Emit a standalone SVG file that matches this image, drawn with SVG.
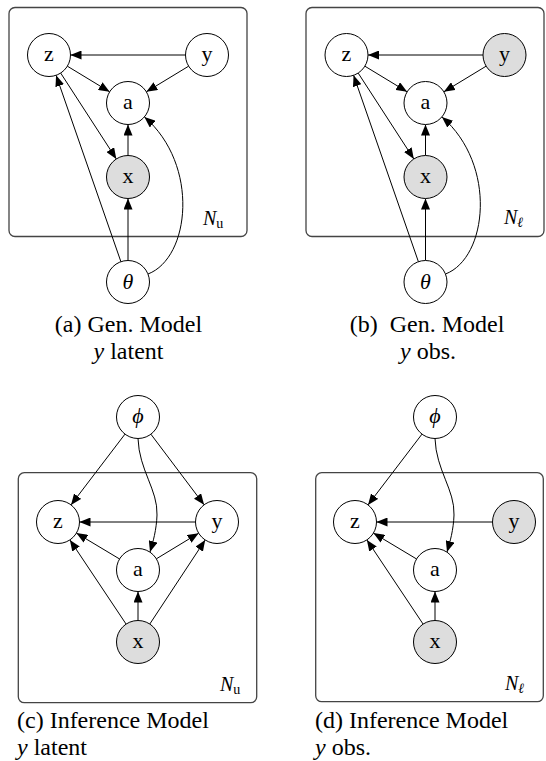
<svg xmlns="http://www.w3.org/2000/svg" width="546" height="761" viewBox="0 0 546 761" font-family="Liberation Serif, Times New Roman, DejaVu Serif, serif">
<defs>
<marker id="ah" viewBox="0 0 11 9" refX="11" refY="4.5" markerWidth="11" markerHeight="9" markerUnits="userSpaceOnUse" orient="auto"><path d="M0,0 L11,4.5 L0,9 z" fill="#000"/></marker>
</defs>
<style>
.plate{fill:none;stroke:#444;stroke-width:1.3}
.node circle{fill:#fff;stroke:#000;stroke-width:1}
.node.obs circle{fill:#dddddd}
.node text{font-size:22px;text-anchor:middle;fill:#000}
.node text.greek{font-style:italic}
.edges line,.edges path{fill:none;stroke:#000;stroke-width:1;marker-end:url(#ah)}
.plabel{font-size:20px;font-style:italic}
.sub{font-size:14px}
.cap{font-size:24px;fill:#000}
</style>
<rect width="546" height="761" fill="#fff"/>

<!-- Panel (a) -->
<g id="panel-a">
<rect class="plate" x="9" y="7.5" width="238" height="229" rx="6"/>
<text class="plabel" x="203" y="225">N<tspan class="sub" font-style="normal" dy="3">u</tspan></text>
<g id="edges-a" class="edges">
<line x1="185.5" y1="55" x2="70.5" y2="55"/>
<line x1="67.4" y1="66.2" x2="109.6" y2="91.8"/>
<line x1="188.6" y1="66.2" x2="146.4" y2="91.8"/>
<line x1="60.7" y1="73.1" x2="116.3" y2="158.9"/>
<line x1="128" y1="155.5" x2="128" y2="124.5"/>
<line x1="128" y1="260.5" x2="128" y2="198.5"/>
<line x1="120.9" y1="261.7" x2="56.1" y2="75.3"/>
<path d="M148,274 C190,258 200,165 144.4,116.9"/>
</g>
<g id="a-z" class="node"><circle cx="49" cy="55" r="21.5"/><text x="49" y="60.5">z</text></g>
<g id="a-y" class="node"><circle cx="207" cy="55" r="21.5"/><text x="207" y="60.5">y</text></g>
<g id="a-a" class="node"><circle cx="128" cy="103" r="21.5"/><text x="128" y="108.5">a</text></g>
<g id="a-x" class="node obs"><circle cx="128" cy="177" r="21.5"/><text x="128" y="182.5">x</text></g>
<g id="a-theta" class="node"><circle cx="128" cy="282" r="21.5"/><text class="greek" x="128" y="289">θ</text></g>
<text class="cap" x="128.5" y="332" text-anchor="middle">(a) Gen. Model</text>
<text class="cap" x="128.5" y="359" text-anchor="middle"><tspan font-style="italic">y</tspan> latent</text>
</g>

<!-- Panel (b) -->
<g id="panel-b">
<rect class="plate" x="306" y="7.5" width="238" height="229" rx="6"/>
<text class="plabel" x="504" y="224">N<tspan class="sub" dy="3">ℓ</tspan></text>
<g transform="translate(297.5,0)">
<g id="edges-b" class="edges">
<line x1="185.5" y1="55" x2="70.5" y2="55"/>
<line x1="67.4" y1="66.2" x2="109.6" y2="91.8"/>
<line x1="188.6" y1="66.2" x2="146.4" y2="91.8"/>
<line x1="60.7" y1="73.1" x2="116.3" y2="158.9"/>
<line x1="128" y1="155.5" x2="128" y2="124.5"/>
<line x1="128" y1="260.5" x2="128" y2="198.5"/>
<line x1="120.9" y1="261.7" x2="56.1" y2="75.3"/>
<path d="M148,274 C190,258 200,165 144.4,116.9"/>
</g>
<g id="b-z" class="node"><circle cx="49" cy="55" r="21.5"/><text x="49" y="60.5">z</text></g>
<g id="b-y" class="node obs"><circle cx="207" cy="55" r="21.5"/><text x="207" y="60.5">y</text></g>
<g id="b-a" class="node"><circle cx="128" cy="103" r="21.5"/><text x="128" y="108.5">a</text></g>
<g id="b-x" class="node obs"><circle cx="128" cy="177" r="21.5"/><text x="128" y="182.5">x</text></g>
<g id="b-theta" class="node"><circle cx="128" cy="282" r="21.5"/><text class="greek" x="128" y="289">θ</text></g>
</g>
<text class="cap" x="427" y="332" text-anchor="middle" xml:space="preserve">(b)  Gen. Model</text>
<text class="cap" x="428" y="359" text-anchor="middle"><tspan font-style="italic">y</tspan> obs.</text>
</g>

<!-- Panel (c) -->
<g id="panel-c">
<rect class="plate" x="18.3" y="472.7" width="238.4" height="230" rx="6"/>
<text class="plabel" x="220" y="691">N<tspan class="sub" font-style="normal" dy="3">u</tspan></text>
<g id="edges-c" class="edges">
<line x1="125" y1="434.1" x2="71" y2="504.9"/>
<line x1="150.9" y1="434.2" x2="204.1" y2="504.8"/>
<path d="M138,438.5 C139,470 158,490 157,515 C156.5,530 153,542 150,552"/>
<line x1="195.5" y1="522" x2="79.5" y2="522"/>
<line x1="119.6" y1="559" x2="76.4" y2="533.1"/>
<line x1="156.4" y1="558.8" x2="198.6" y2="533.2"/>
<line x1="126.1" y1="624.1" x2="69.9" y2="539.9"/>
<line x1="149.8" y1="624" x2="205.2" y2="540"/>
<line x1="138" y1="620.5" x2="138" y2="591.5"/>
</g>
<g id="c-phi" class="node"><circle cx="138" cy="417" r="21.5"/><text class="greek" x="138" y="423">ϕ</text></g>
<g id="c-z" class="node"><circle cx="58" cy="522" r="21.5"/><text x="58" y="527.5">z</text></g>
<g id="c-y" class="node"><circle cx="217" cy="522" r="21.5"/><text x="217" y="527.5">y</text></g>
<g id="c-a" class="node"><circle cx="138" cy="570" r="21.5"/><text x="138" y="575.5">a</text></g>
<g id="c-x" class="node obs"><circle cx="138" cy="642" r="21.5"/><text x="138" y="647.5">x</text></g>
<text class="cap" x="17" y="728">(c) Inference Model</text>
<text class="cap" x="17" y="755"><tspan font-style="italic">y</tspan> latent</text>
</g>

<!-- Panel (d) -->
<g id="panel-d">
<rect class="plate" x="315.7" y="472.7" width="227.6" height="229" rx="6"/>
<text class="plabel" x="505" y="690">N<tspan class="sub" dy="3">ℓ</tspan></text>
<g transform="translate(297,0)">
<g id="edges-d" class="edges">
<line x1="125" y1="434.1" x2="71" y2="504.9"/>
<path d="M138,438.5 C139,470 158,490 157,515 C156.5,530 153,542 150,552"/>
<line x1="195.5" y1="522" x2="79.5" y2="522"/>
<line x1="119.6" y1="559" x2="76.4" y2="533.1"/>
<line x1="126.1" y1="624.1" x2="69.9" y2="539.9"/>
<line x1="138" y1="620.5" x2="138" y2="591.5"/>
</g>
<g id="d-phi" class="node"><circle cx="138" cy="417" r="21.5"/><text class="greek" x="138" y="423">ϕ</text></g>
<g id="d-z" class="node"><circle cx="58" cy="522" r="21.5"/><text x="58" y="527.5">z</text></g>
<g id="d-y" class="node obs"><circle cx="217" cy="522" r="21.5"/><text x="217" y="527.5">y</text></g>
<g id="d-a" class="node"><circle cx="138" cy="570" r="21.5"/><text x="138" y="575.5">a</text></g>
<g id="d-x" class="node obs"><circle cx="138" cy="642" r="21.5"/><text x="138" y="647.5">x</text></g>
</g>
<text class="cap" x="315" y="728">(d) Inference Model</text>
<text class="cap" x="315" y="755"><tspan font-style="italic">y</tspan> obs.</text>
</g>
</svg>
